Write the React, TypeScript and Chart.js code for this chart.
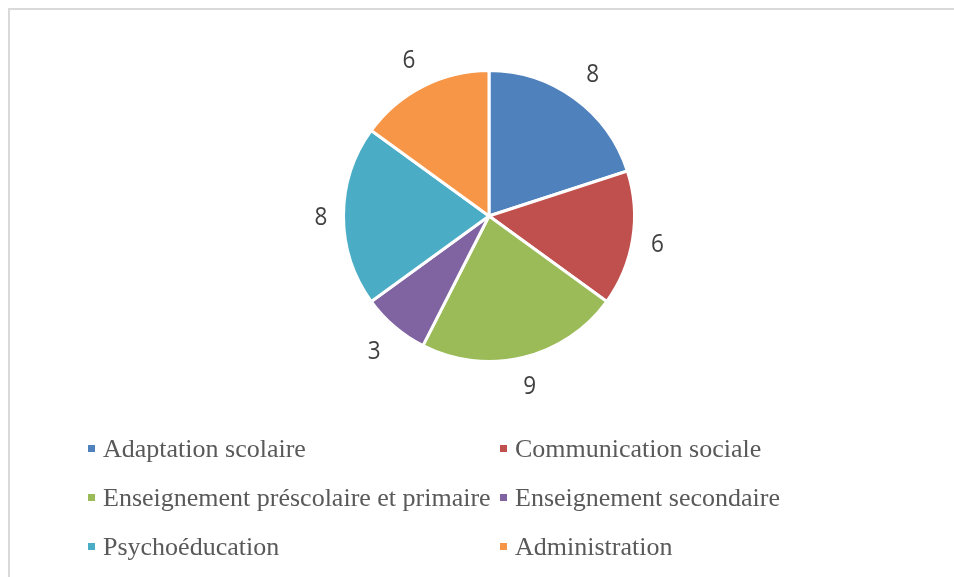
import React, { useEffect, useRef } from "react";
import { Chart, registerables } from "chart.js";

Chart.register(...registerables);

const categories = [
  "Adaptation scolaire",
  "Communication sociale",
  "Enseignement préscolaire et primaire",
  "Enseignement secondaire",
  "Psychoéducation",
  "Administration",
];
const values = [8, 6, 9, 3, 8, 6];
const colors = ["#4F81BD", "#C0504D", "#9BBB59", "#8064A2", "#4BACC6", "#F79646"];

const labelPlugin = {
  id: "outsideLabels",
  afterDatasetsDraw(chart: any) {
    const ctx = chart.ctx;
    const meta = chart.getDatasetMeta(0);
    const fontSize = 25;
    const digitH = 0.714 * fontSize;
    const halfW = 14.5;
    const halfH = 18;
    const gap = 8;
    ctx.save();
    ctx.font = fontSize + "px 'Open Sans'";
    ctx.fillStyle = "#404040";
    ctx.textAlign = "center";
    ctx.textBaseline = "alphabetic";
    meta.data.forEach((arc: any, i: number) => {
      const mid = (arc.startAngle + arc.endAngle) / 2;
      const c = Math.cos(mid);
      const s = Math.sin(mid);
      const r = arc.outerRadius + gap + Math.abs(c) * halfW + Math.abs(s) * halfH;
      const x = arc.x + c * r;
      const y = arc.y + s * r;
      ctx.save();
      ctx.translate(x, y + digitH / 2);
      ctx.scale(0.9, 1);
      ctx.fillText(String(values[i]), 0, 0);
      ctx.restore();
    });
    ctx.restore();
  },
};

const legendPlugin = {
  id: "gridLegend",
  afterDraw(chart: any) {
    const ctx = chart.ctx;
    ctx.save();
    ctx.font = "26px 'Liberation Serif'";
    ctx.textBaseline = "middle";
    ctx.textAlign = "left";
    const colX = [82, 494];
    const rowY0 = 439;
    const rowGap = 49;
    categories.forEach((c, i) => {
      const col = i % 2;
      const row = Math.floor(i / 2);
      const x = colX[col];
      const y = rowY0 + row * rowGap;
      ctx.fillStyle = colors[i];
      ctx.fillRect(x - 4, y - 4, 7, 7);
      ctx.fillStyle = "#595959";
      ctx.fillText(c, x + 11, y + 1);
    });
    ctx.restore();
  },
};

export default function App() {
  const ref = useRef<HTMLCanvasElement>(null);
  useEffect(() => {
    if (!ref.current) return;
    const chart = new Chart(ref.current, {
      type: "pie",
      data: {
        labels: categories,
        datasets: [
          {
            data: values,
            backgroundColor: colors,
            borderColor: "#FFFFFF",
            borderWidth: 3,
          },
        ],
      },
      options: {
        animation: false,
        responsive: false,
        layout: { padding: { top: 59, bottom: 214, left: 214, right: 200 } },
        plugins: {
          legend: { display: false },
          tooltip: { enabled: false },
        },
      },
      plugins: [labelPlugin, legendPlugin],
    });
    return () => chart.destroy();
  }, []);
  return (
    <div
      style={{
        position: "fixed",
        left: 8,
        top: 8,
        borderTop: "2px solid #D9D9D9",
        borderLeft: "2px solid #D9D9D9",
        width: 944,
        height: 567,
        overflow: "hidden",
        background: "#FFFFFF",
      }}
    >
      <canvas ref={ref} width={944} height={567} style={{ display: "block" }} />
    </div>
  );
}
